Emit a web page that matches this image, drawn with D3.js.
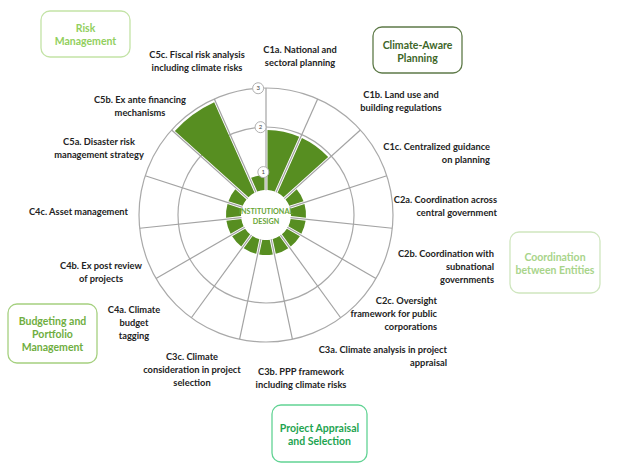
<!DOCTYPE html>
<html><head><meta charset="utf-8">
<script src="https://cdn.jsdelivr.net/npm/d3@7"></script>
<style>body{margin:0;background:#fff}svg{display:block}</style>
</head><body>
<svg id="c" width="617" height="473"></svg>
<script>
// ---- data ----
const categories = ["C1a","C1b","C1c","C2a","C2b","C2c","C3a","C3b","C3c","C4a","C4b","C4c","C5a","C5b","C5c"];
const categoryLabels = [
  ["C1a. National and","sectoral planning"],
  ["C1b. Land use and","building regulations"],
  ["C1c. Centralized guidance","on planning"],
  ["C2a. Coordination across","central government"],
  ["C2b. Coordination with","subnational","governments"],
  ["C2c. Oversight","framework for public","corporations"],
  ["C3a. Climate analysis in project","appraisal"],
  ["C3b. PPP framework","including climate risks"],
  ["C3c. Climate","consideration in project","selection"],
  ["C4a. Climate","budget","tagging"],
  ["C4b. Ex post review","of projects"],
  ["C4c. Asset management"],
  ["C5a. Disaster risk","management strategy"],
  ["C5b. Ex ante financing","mechanisms"],
  ["C5c. Fiscal risk analysis","including climate risks"]
];
const scores = [2,2,1,1,1,1,1,1,1,1,1,1,1,3,1];
const ringTicks = ["1","2","3"];
const centerLines = ["INSTITUTIONAL","DESIGN"];
const groupNames = [
  ["Risk","Management"],
  ["Climate-Aware","Planning"],
  ["Coordination","between Entities"],
  ["Budgeting and","Portfolio","Management"],
  ["Project Appraisal","and Selection"]
];

// ---- layout (positions / styles) ----
const cx = 266, cy = 215;
const labelPos = [
  [300,50,"middle"],[401,95,"middle"],[490,147,"end"],[497,200,"end"],[494,254,"end"],
  [437,301,"end"],[447,350,"end"],[301,372,"middle"],[192,357,"middle"],[134,310,"middle"],
  [101,266,"middle"],[128,212,"end"],[99,142,"middle"],[140,100,"middle"],[197,55,"middle"]
];
const groupBoxes = [
  {x:41,y:11,w:89,h:46,stroke:"#c3e3a6",fill:"#92cf5e",ty:28},
  {x:373,y:27,w:89,h:46,stroke:"#5e7a48",fill:"#3d6628",ty:45},
  {x:510,y:232,w:90,h:61,stroke:"#cfe6bf",fill:"#a8d48a",ty:257},
  {x:8,y:304,w:89,h:59,stroke:"#a5d07f",fill:"#6fae3f",ty:321},
  {x:272,y:405,w:95,h:57,stroke:"#62d394",fill:"#1ea450",ty:428}
];
const FONT = "Lato, 'Open Sans', sans-serif";

const svg = d3.select("#c");
const g = svg.append("g").attr("transform",`translate(${cx},${cy})`);

const r = d3.scaleLinear().domain([0,1,2,3]).range([24.5,43,88,127]);
const a = d3.scaleBand().domain(categories).range([0,2*Math.PI]);
const bw = a.bandwidth();

// rings
g.selectAll("circle.ring").data([2,3]).join("circle")
  .attr("r", d=>r(d)).attr("fill","none").attr("stroke","#a9a9a9").attr("stroke-width",1.2);

// bars
const arc = d3.arc()
  .innerRadius(r(0)+0.5)
  .outerRadius(d=>r(d.v)-3)
  .startAngle(d=>a(d.c)).endAngle(d=>a(d.c)+bw)
  .padAngle(0.03).padRadius(100);
g.selectAll("path.bar").data(categories.map((c,i)=>({c,v:scores[i]}))).join("path")
  .attr("d",arc).attr("fill","#578e21");

// spokes
g.selectAll("line.spoke").data(categories).join("line")
  .attr("x1",d=>r(0)*Math.sin(a(d))).attr("y1",d=>-r(0)*Math.cos(a(d)))
  .attr("x2",d=>r(3)*Math.sin(a(d))).attr("y2",d=>-r(3)*Math.cos(a(d)))
  .attr("stroke","#a3a3a3").attr("stroke-width",1.2);

// center
g.append("circle").attr("r",r(0)).attr("fill","#fff");
g.selectAll("text.center").data(centerLines).join("text")
  .attr("text-anchor","middle").attr("y",(d,i)=>-1+i*10)
  .attr("font-family",FONT).attr("font-weight",700).attr("font-size",7.2)
  .attr("fill","#67a536").text(d=>d);

// tick labels
const ta = -0.062;
const tk = g.selectAll("g.tick").data(ringTicks).join("g")
  .attr("transform",d=>`translate(${r(+d)*Math.sin(ta)},${-r(+d)*Math.cos(ta)})`);
tk.append("circle").attr("r",5.5).attr("fill","#fff").attr("stroke","#b0b0b0").attr("stroke-width",1);
tk.append("text").attr("text-anchor","middle").attr("dy","0.35em")
  .attr("font-family",FONT).attr("font-size",6).attr("fill","#444").text(d=>d);

// category labels
categories.forEach((c,i)=>{
  const [x,y,anc] = labelPos[i];
  const t = svg.append("text").attr("text-anchor",anc)
    .attr("font-family",FONT).attr("font-weight",700).attr("font-size",9.3).attr("fill","#232323");
  categoryLabels[i].forEach((ln,j)=>{
    t.append("tspan").attr("x",x).attr("y",y+3.3+j*13).text(ln);
  });
});

// group boxes
groupNames.forEach((lines,i)=>{
  const b = groupBoxes[i];
  svg.append("rect").attr("x",b.x).attr("y",b.y).attr("width",b.w).attr("height",b.h)
    .attr("rx",9).attr("fill","#fff").attr("stroke",b.stroke).attr("stroke-width",1.3);
  const t = svg.append("text").attr("text-anchor","middle")
    .attr("font-family",FONT).attr("font-weight",700).attr("font-size",10.5).attr("fill",b.fill);
  lines.forEach((ln,j)=>{
    t.append("tspan").attr("x",b.x+b.w/2).attr("y",b.ty+3.6+j*13).text(ln);
  });
});
</script>
</body></html>
